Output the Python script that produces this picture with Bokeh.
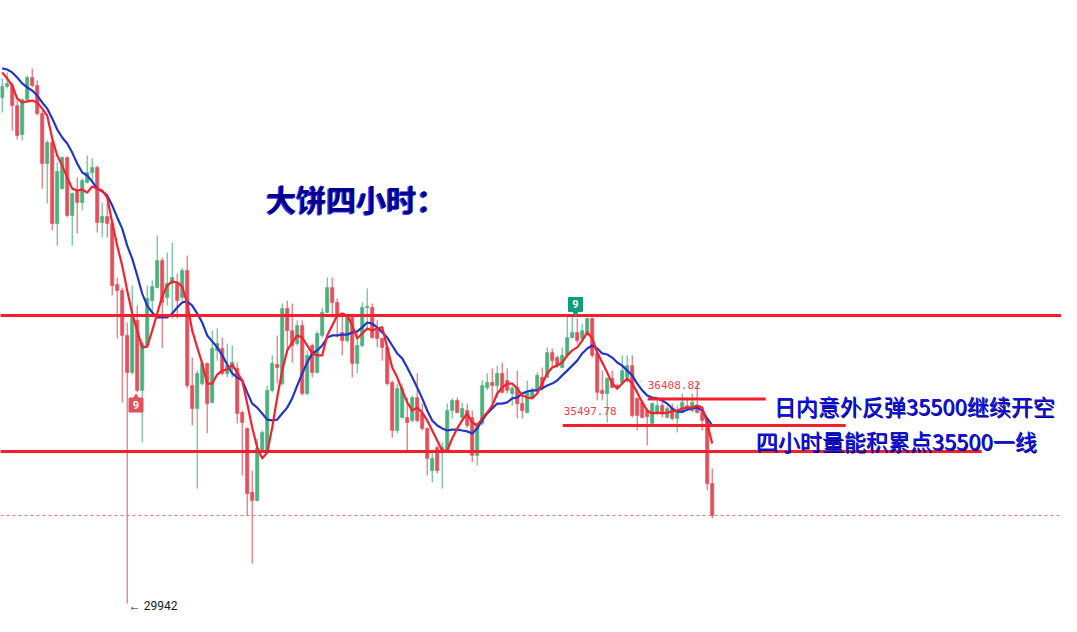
from bokeh.plotting import figure
from bokeh.models import Range1d, Span
from bokeh.embed import file_html
from bokeh.resources import INLINE
from bokeh.core.properties import value

# ---- 4h candles (prices, log price scale) ----
opens = [48570, 49090, 49130, 48200, 46880, 48480, 49510, 49130, 47830, 45600,
         46530, 43060, 44520, 45860, 43390, 44440, 43930, 44780, 45210, 45430,
         43100, 43350, 43060, 40620, 40390, 38690, 37340, 39250, 36710, 38320,
         40000, 40500, 41560, 40120, 40660, 40660, 40120, 41170, 36880, 36080,
         36950, 37670, 36290, 38140, 38210, 37310, 37490, 37490, 35940, 35400,
         33300, 33040, 34660, 34660, 36710, 37630, 36950, 39700, 38870, 38390,
         39060, 36600, 38320, 37340, 38690, 39550, 40500, 39930, 38800, 38500,
         39360, 37670, 38320, 39740, 39740, 38870, 38580, 38250, 36990, 35330,
         35770, 35770, 35670, 36460, 35910, 35400, 34000, 34760, 34590, 34660,
         36010, 36360, 35770, 36010, 35770, 34500, 35570, 36810, 36990, 36880,
         37310, 37060, 36600, 36810, 36250, 35940, 36460, 36710, 37170, 37170,
         38060, 37880, 37520, 37960, 38610, 38800, 38580, 38760, 39320, 38030,
         36710, 36600, 37130, 36880, 36990, 37170, 37590, 36430, 36290, 36010,
         35570, 35910, 36180, 35770, 36080, 35740, 35940, 36180, 36010, 36180,
         35940, 35670, 33580]
highs = [49460, 49750, 49270, 48430, 48520, 49600, 49940, 49370, 47970, 46620,
         46620, 45650, 45910, 45910, 44350, 45000, 44950, 45950, 45820, 45510,
         43930, 43930, 42980, 40890, 40500, 39170, 40580, 39810, 38500, 40580,
         40780, 42570, 41680, 41880, 42280, 41050, 41280, 41760, 37880, 37410,
         37770, 37700, 38870, 38950, 38610, 38390, 38320, 37700, 36010, 35430,
         34000, 35060, 35330, 36880, 37960, 38690, 39890, 40000, 39890, 39250,
         39250, 38140, 38390, 38840, 39740, 40890, 40890, 40080, 39510, 39510,
         39510, 38800, 39930, 40470, 39890, 39250, 38610, 38320, 37060, 36950,
         36950, 36460, 36530, 37310, 36250, 35430, 34660, 34830, 34930, 36250,
         36430, 36460, 36290, 36250, 36010, 35600, 37060, 37310, 37490, 37590,
         37700, 37490, 36880, 37410, 36530, 37060, 36810, 37340, 37520, 38250,
         38210, 37960, 38250, 39430, 39430, 39320, 39130, 39360, 39360, 38060,
         37410, 37170, 37410, 36950, 37960, 37960, 37960, 36460, 36360, 36080,
         36290, 36360, 36460, 36180, 36250, 36180, 36600, 36460, 36600, 36990,
         36010, 35740, 34070]
lows = [47880, 48990, 47060, 46660, 46620, 48430, 49040, 47740, 44520, 43890,
        42770, 42160, 44480, 43310, 42160, 42650, 43600, 44740, 44780, 42690,
        42490, 42490, 40200, 38580, 36290, 29942, 37270, 36640, 34930, 38250,
        39360, 40470, 38210, 39810, 39320, 39320, 40000, 36780, 35500, 33420,
        36880, 35230, 36250, 37770, 37240, 37170, 37170, 35570, 33840, 32570,
        31110, 33010, 34590, 34590, 36640, 36950, 36880, 38030, 37700, 38320,
        36530, 36530, 37170, 37310, 38610, 39510, 39360, 38610, 37960, 38430,
        37170, 37310, 38250, 38870, 38580, 38250, 37770, 36880, 35090, 35230,
        35740, 34660, 35600, 35600, 35330, 33840, 33620, 33910, 33420, 34590,
        35740, 35910, 35740, 35430, 34270, 34170, 35500, 36710, 36180, 36460,
        36600, 36600, 36180, 35740, 35740, 35910, 36430, 36640, 36710, 37170,
        37490, 37520, 37490, 37880, 38580, 38390, 38500, 38690, 37880, 36360,
        36360, 35600, 36780, 36710, 36950, 36990, 35770, 35330, 35740, 34830,
        35500, 35840, 35770, 35740, 35670, 35260, 35910, 36010, 35940, 35910,
        35330, 33360, 32480]
closes = [49090, 49230, 48200, 46840, 48480, 49510, 49130, 47830, 45600, 46530,
          43060, 45250, 45860, 43390, 44310, 43930, 44870, 45210, 45430, 43100,
          43350, 43060, 40580, 40390, 38690, 37340, 39430, 36710, 38390, 40080,
          40540, 41560, 39930, 40660, 40890, 40000, 41170, 36880, 36080, 37310,
          37670, 36250, 38210, 38390, 37310, 37590, 37700, 35910, 35600, 33260,
          33040, 34730, 35260, 36710, 37670, 37520, 39700, 38870, 38320, 39060,
          36600, 37960, 37340, 38760, 39550, 40500, 39930, 39430, 38500, 39360,
          37670, 38320, 39740, 39780, 38610, 38580, 38250, 36950, 35330, 36780,
          36780, 35600, 36460, 35670, 35400, 34400, 34400, 34000, 34760, 36010,
          36360, 35940, 36080, 35500, 34500, 35570, 36880, 36990, 36880, 37310,
          36640, 36710, 36780, 36250, 36010, 36640, 36710, 37240, 36810, 38060,
          37770, 37590, 37960, 38610, 38800, 38500, 38870, 39320, 37960, 36640,
          36600, 37130, 36810, 36780, 37410, 37590, 35840, 35840, 35770, 35800,
          36250, 36180, 35910, 36080, 35740, 36010, 36290, 36080, 36290, 35940,
          35670, 33580, 32570]

# ---- moving average lines as drawn on the chart ----
ma_fast = [49750, 49460, 49130, 48520, 48340, 48390, 48430, 48340, 48060, 47740,
           46700, 45950, 45510, 45000, 44520, 44440, 44480, 44350, 44610, 44520,
           44440, 44140, 43100, 42160, 41360, 40390, 39510, 38870, 38250, 38280,
           38870, 39510, 40160, 40580, 40740, 40700, 40540, 39890, 38870, 38250,
           37670, 36950, 36950, 37270, 37410, 37450, 37630, 37340, 37060, 36250,
           35430, 34760, 34400, 34590, 35430, 36460, 37410, 38140, 38430, 38690,
           38610, 38320, 38030, 37960, 37960, 38690, 39060, 39430, 39510, 39430,
           39060, 38580, 38760, 38950, 38870, 38950, 38990, 38250, 37520, 37170,
           36710, 36290, 36010, 36110, 35940, 35670, 35330, 34990, 34660, 34660,
           35060, 35400, 35670, 35910, 35600, 35500, 35740, 35940, 36180, 36600,
           36810, 36950, 36950, 36780, 36530, 36460, 36430, 36600, 36950, 37310,
           37520, 37590, 37700, 37960, 38140, 38250, 38500, 38800, 38580, 38060,
           37700, 37340, 36950, 36780, 36950, 37130, 36950, 36640, 36290, 36010,
           35910, 35940, 35910, 35940, 35980, 36010, 36080, 36110, 36110, 36180,
           36110, 35570, 34890]
ma_slow = [49940, 49890, 49750, 49510, 49230, 49040, 48900, 48660, 48340, 48060,
           47610, 47110, 46750, 46480, 46080, 45600, 45210, 45080, 44820, 44520,
           44400, 44230, 43810, 43310, 42850, 42160, 41640, 40970, 40270, 39810,
           39550, 39360, 39360, 39360, 39510, 39740, 39930, 39970, 39810, 39510,
           39170, 38690, 38470, 38250, 37960, 37630, 37310, 37170, 37060, 36640,
           36250, 36110, 35910, 35700, 35670, 35700, 35910, 36110, 36430, 36880,
           37310, 37700, 38030, 38140, 38320, 38610, 38690, 38690, 38720, 38720,
           38800, 38840, 38990, 39170, 39130, 38990, 38800, 38610, 38320, 38030,
           37850, 37520, 37170, 36810, 36430, 36010, 35670, 35500, 35400, 35330,
           35360, 35360, 35330, 35300, 35230, 35400, 35670, 35910, 36080, 36250,
           36250, 36290, 36430, 36460, 36600, 36670, 36710, 36710, 36780, 36880,
           36950, 37060, 37240, 37410, 37590, 37770, 38030, 38210, 38320, 38210,
           38030, 37990, 37880, 37700, 37590, 37410, 37240, 36950, 36710, 36530,
           36460, 36430, 36360, 36250, 36080, 35970, 35970, 36040, 36080, 36110,
           36010, 35740, 35500]

# ---- hand-drawn levels ----
level_price = [39430, 34630, 35497.78, 36408.82]
level_from_bar = [-3, -3, 112.1, 129.1]
level_to_bar = [216, 195.9, 168.7, 152.7]
level_labels = ["35497.78", "36408.82"]

low_label = "← 29942"
title_text = "大饼四小时："
note_texts = ["日内意外反弹35500继续开空", "四小时量能积累点35500一线"]

n = len(opens)
bars = list(range(n))
UP = "#4cb07e"
DOWN = "#e2505d"
colors = [UP if c >= o else DOWN for o, c in zip(opens, closes)]
tops = [max(o, c) for o, c in zip(opens, closes)]
bots = [min(o, c) for o, c in zip(opens, closes)]

p = figure(width=1061, height=616, output_backend="svg", toolbar_location=None,
           x_range=Range1d(-0.34, 211.86), y_range=Range1d(29574, 53291),
           y_axis_type="log", x_axis_location=None, y_axis_location=None,
           min_border=0)
p.outline_line_color = None
p.background_fill_color = "white"
p.border_fill_color = "white"
p.grid.visible = False

# current price line
p.add_layout(Span(location=closes[-1], dimension="width", line_color="#e57373",
                  line_width=1, line_dash="3 3"))

p.segment(x0=bars, y0=lows, x1=bars, y1=highs, line_color=colors, line_width=1)
p.vbar(x=bars, width=0.66, top=tops, bottom=bots, fill_color=colors,
       line_color=colors, line_width=0.6)

p.line(bars, ma_slow, line_color="#2236c6", line_width=2.2, line_join="round")
p.line(bars, ma_fast, line_color="#f5222d", line_width=2.2, line_join="round")

p.segment(x0=level_from_bar, y0=level_price, x1=level_to_bar, y1=level_price,
          line_color="#f41f2c", line_width=3)

mono = value("DejaVu Sans Mono")
p.text(x=[112.3, 129.1], y=[36010, 36917], text=level_labels, text_font=mono,
       text_font_size=value("11px"), text_color="#ef4050", text_baseline="middle",
       text_align="left")

p.text(x=[25.3], y=[29884], text=[low_label], text_font=value("Roboto"),
       text_font_size=value("12px"), text_color="#131722", text_baseline="middle",
       text_align="left")

# TD "9" markers
p.scatter(x=[26.76], y=[36460], marker="triangle", size=6, fill_color=DOWN,
          line_color=DOWN)
p.scatter(x=[26.76], y=[36200], marker="square", size=14, fill_color=DOWN,
          line_color=DOWN)
p.scatter(x=[114.66], y=[39548], marker="inverted_triangle", size=6,
          fill_color="#0f9d7a", line_color="#0f9d7a")
p.scatter(x=[114.66], y=[39852], marker="square", size=14, fill_color="#0f9d7a",
          line_color="#0f9d7a")
p.text(x=[26.76, 114.66], y=[36200, 39852], text=["9", "9"],
       text_font=value("Roboto"), text_font_size=value("11px"),
       text_font_style="bold", text_color="white", text_align="center",
       text_baseline="middle")

cjk = value("Noto Sans CJK SC")
p.text(x=[52.86], y=[44143], text=[title_text], text_font=cjk,
       text_font_size=value("30px"), text_font_style="bold", text_color="#3a3aff",
       text_baseline="middle", text_align="left", x_offset=-1.5, y_offset=1)
p.text(x=[52.86], y=[44143], text=[title_text], text_font=cjk,
       text_font_size=value("30px"), text_font_style="bold", text_color="#00008c",
       text_baseline="middle", text_align="left")

p.text(x=[154.3, 150.7], y=[36218, 35026], text=note_texts, text_font=cjk,
       text_font_size=value("22px"), text_color="#000070", text_baseline="middle",
       text_align="left", x_offset=1, y_offset=1)
p.text(x=[154.3, 150.7], y=[36218, 35026], text=note_texts, text_font=cjk,
       text_font_size=value("22px"), text_color="#1414e6", text_baseline="middle",
       text_align="left")

open("out.html", "w").write(file_html(p, INLINE))
